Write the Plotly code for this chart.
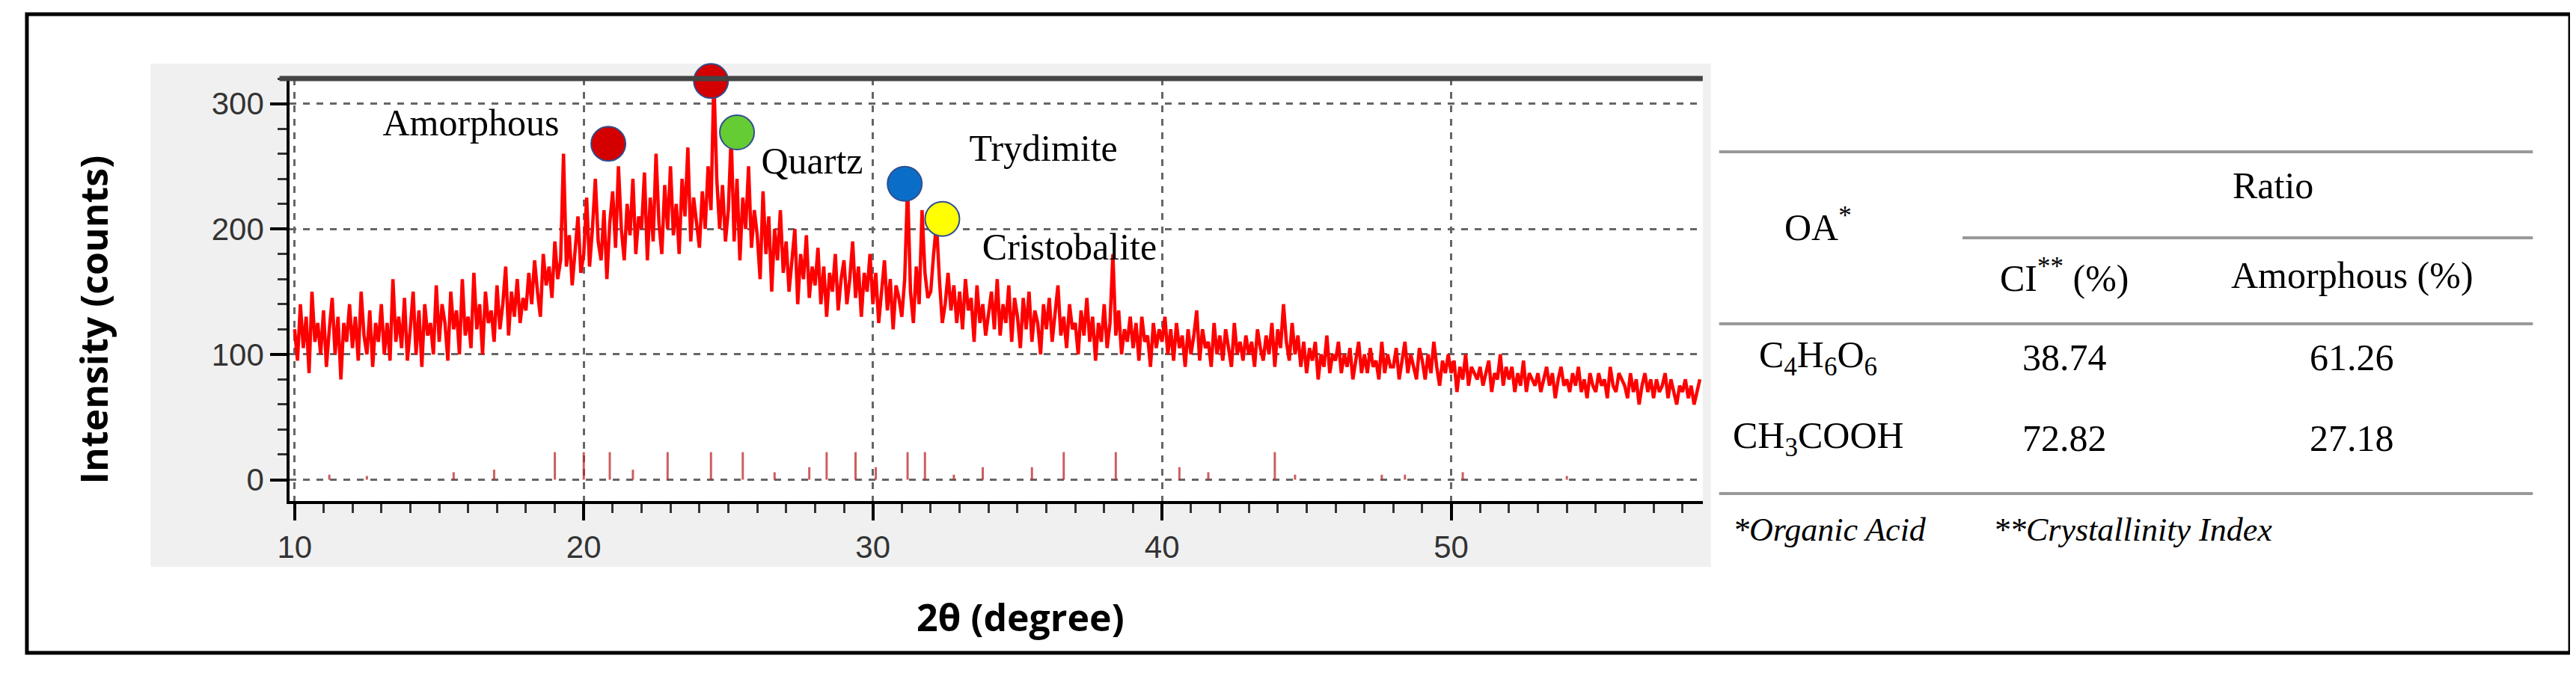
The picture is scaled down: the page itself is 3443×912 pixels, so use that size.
import numpy as np
import plotly.graph_objects as go

# ---------------- data ----------------
X_START = 10.0
X_STEP = 0.1
intensity = [
120,95,140,105,130,85,150,110,125,100,
135,90,120,145,100,130,80,125,110,140,
105,130,95,150,115,100,135,90,125,110,
140,100,125,95,160,110,130,105,145,95,
120,150,100,135,90,140,115,125,100,155,
110,140,125,95,150,120,135,100,160,115,
130,105,165,120,140,100,150,125,135,110,
155,120,140,170,115,150,130,160,125,145,
135,165,140,175,150,130,180,155,170,145,
190,160,175,260,170,195,155,185,210,165,
180,225,170,200,240,190,175,215,160,205,
230,185,250,200,175,220,195,240,180,210,
200,245,175,225,190,260,205,180,235,200,
250,195,220,180,240,210,265,190,225,205,
185,230,200,250,215,320,240,200,235,190,
215,275,190,240,175,225,200,250,185,215,
195,160,230,180,210,150,200,175,215,165,
190,150,175,200,140,180,160,195,145,170,
155,185,140,170,130,165,150,180,135,160,
175,140,160,190,145,170,130,165,150,180,
140,165,125,150,175,135,160,120,155,145,
130,160,235,150,125,170,140,215,165,145,
150,180,205,160,125,140,165,135,155,125,
150,120,160,135,145,110,155,125,140,115,
135,150,120,160,115,140,125,155,110,145,
130,105,145,120,150,110,135,125,100,140,
120,145,110,135,155,115,130,105,140,120,
125,100,135,115,145,110,130,95,125,110,
140,105,125,180,115,135,100,120,110,130,
105,125,95,130,110,115,90,125,105,120,
110,130,100,120,95,125,105,115,90,120,
100,115,135,95,120,105,110,90,125,100,
115,95,120,105,90,125,100,110,95,115,
100,110,90,120,105,95,115,100,125,90,
120,105,140,110,95,125,100,115,90,110,
85,105,95,110,80,100,90,115,85,100,
95,110,85,100,90,105,80,95,110,85,
100,85,105,90,95,80,110,85,100,90,
90,105,80,95,110,85,100,90,80,105,
95,80,100,85,110,90,75,95,85,100,
85,95,70,90,80,100,75,90,85,80,
90,75,85,95,70,85,80,100,75,90,
80,90,70,85,75,95,70,85,80,75,
85,70,80,90,75,85,65,80,90,75,
80,70,85,75,90,70,80,65,85,75,
70,85,75,80,65,90,75,70,85,80,
75,65,85,70,80,60,75,85,70,80,
65,80,70,75,85,65,80,70,60,75,
70,80,65,75,60,70,80,
]
two_theta = X_START + X_STEP * np.arange(len(intensity))

# reference stick pattern
stick_pos = [11.2, 12.5, 15.5, 16.9, 19.0, 20.0, 20.9, 21.7, 22.9, 24.4, 25.5, 26.6,
             27.8, 28.4, 29.4, 30.1, 31.2, 31.8, 32.8, 33.8, 35.5, 36.6, 38.4, 40.6,
             41.6, 43.9, 44.6, 47.6, 48.4, 50.4, 54.0]
stick_h = [4, 3, 6, 8, 22, 22, 22, 8, 22, 22, 22, 6,
           10, 22, 22, 10, 22, 22, 4, 10, 10, 22, 22, 10,
           6, 22, 4, 4, 4, 6, 3]

# phase markers
phase_x = [20.85, 24.4, 25.3, 31.1, 32.4]
phase_y = [268, 318, 277, 236, 208]
phase_color = ["#d40000", "#d40000", "#66cc33", "#0a6ec8", "#ffff00"]

phase_labels = ["Amorphous", "Quartz", "Trydimite", "Cristobalite"]
label_x = [16.1, 27.9, 35.9, 36.8]
label_y = [282, 252, 262, 183]

x_ticks = [10, 20, 30, 40, 50]
y_ticks = [0, 100, 200, 300]

# table
tbl_acids = ["C<sub>4</sub>H<sub>6</sub>O<sub>6</sub>", "CH<sub>3</sub>COOH"]
tbl_ci = ["38.74", "72.82"]
tbl_amorph = ["61.26", "27.18"]

# ---------------- figure ----------------
W, H = 3443, 912
fig = go.Figure()

sx, sy = [], []
for p, h in zip(stick_pos, stick_h):
    sx += [p, p, None]
    sy += [0, h, None]
fig.add_trace(go.Scatter(x=sx, y=sy, mode="lines",
                         line=dict(color="rgba(190,40,40,0.75)", width=3),
                         hoverinfo="skip"))

fig.add_trace(go.Scatter(x=two_theta, y=intensity, mode="lines",
                         line=dict(color="#ff0000", width=4.5)))

fig.add_trace(go.Scatter(x=phase_x, y=phase_y, mode="markers", cliponaxis=False,
                         marker=dict(size=46, color=phase_color,
                                     line=dict(color="#2f4f8f", width=2))))

fig.add_trace(go.Scatter(x=label_x, y=label_y, mode="text", text=phase_labels,
                         textposition="middle center", cliponaxis=False,
                         textfont=dict(family="Liberation Serif", size=50, color="black")))

px0, px1 = 364 / W, 2262 / W
py0, py1 = 1 - 662 / H, 1 - 97 / H

fig.update_layout(
    width=W, height=H, autosize=False,
    margin=dict(l=0, r=0, t=0, b=0),
    paper_bgcolor="white", plot_bgcolor="white",
    showlegend=False,
    xaxis=dict(domain=[px0, px1], range=[9.83, 58.7], tickvals=x_ticks,
               showgrid=True, gridcolor="#666", griddash="dash", gridwidth=3,
               zeroline=False, showline=True, linecolor="black", linewidth=4,
               ticks="outside", ticklen=22, tickwidth=4, tickcolor="black",
               minor=dict(dtick=1, ticks="outside", ticklen=12, tickwidth=3,
                          tickcolor="#333", showgrid=False),
               tickfont=dict(family="Liberation Sans", size=42, color="#333")),
    yaxis=dict(domain=[py0, py1], range=[-17, 320], tickvals=y_ticks,
               showgrid=True, gridcolor="#666", griddash="dash", gridwidth=3,
               zeroline=False, showline=True, linecolor="black", linewidth=4,
               ticks="outside", ticklen=22, tickwidth=4, tickcolor="black",
               minor=dict(dtick=20, ticks="outside", ticklen=12, tickwidth=3,
                          tickcolor="#333", showgrid=False),
               tickfont=dict(family="Liberation Sans", size=42, color="#333")),
)

shapes = [
    dict(type="rect", xref="paper", yref="paper", x0=11 / W, x1=3427 / W,
         y0=1 - 865 / H, y1=1 - 11 / H, line=dict(color="black", width=5),
         layer="below"),
    dict(type="rect", xref="paper", yref="paper", x0=177 / W, x1=2273 / W,
         y0=1 - 750 / H, y1=1 - 77 / H, fillcolor="#f0f0f0",
         line=dict(width=0), layer="below"),
    dict(type="rect", xref="paper", yref="paper", x0=px0, x1=px1,
         y0=py0, y1=py1, fillcolor="white", line=dict(width=0), layer="below"),
    dict(type="line", xref="paper", yref="paper", x0=px0 - 0.004, x1=px1,
         y0=py1, y1=py1, line=dict(color="#444", width=7)),
]
for yy, xs in [(195, 2284), (310, 2611), (425, 2284), (652, 2284)]:
    shapes.append(dict(type="line", xref="paper", yref="paper",
                       x0=xs / W, x1=3377 / W, y0=1 - yy / H, y1=1 - yy / H,
                       line=dict(color="#999", width=4)))
fig.update_layout(shapes=shapes)

serif = dict(family="Liberation Serif", size=50, color="black")
ann = []
def A(x, y, t, font=serif, xanchor="center", **kw):
    ann.append(dict(xref="paper", yref="paper", x=x / W, y=1 - y / H, text=t,
                    showarrow=False, font=font, xanchor=xanchor, yanchor="middle", **kw))

A(3028, 240, "Ratio")
A(2417, 292, "OA<sup>*</sup>")
A(2748, 360, "CI<sup>**</sup> (%)")
A(3134, 360, "Amorphous (%)")
for i, yy in enumerate([470, 578]):
    A(2417, yy, tbl_acids[i])
    A(2748, yy, tbl_ci[i])
    A(3134, yy, tbl_amorph[i])
ital = dict(family="Liberation Serif", size=44, color="black")
A(2300, 700, "<i>*Organic Acid</i>", font=ital, xanchor="left")
A(2650, 700, "<i>**Crystallinity Index</i>", font=ital, xanchor="left")

bold = dict(family="Open Sans", size=50, color="black")
A(1346, 817, "<b>2θ (degree)</b>", font=bold)
A(100, 420, "<b>Intensity (counts)</b>", font=bold, textangle=-90)
fig.update_layout(annotations=ann)

fig.write_html("out.html")
